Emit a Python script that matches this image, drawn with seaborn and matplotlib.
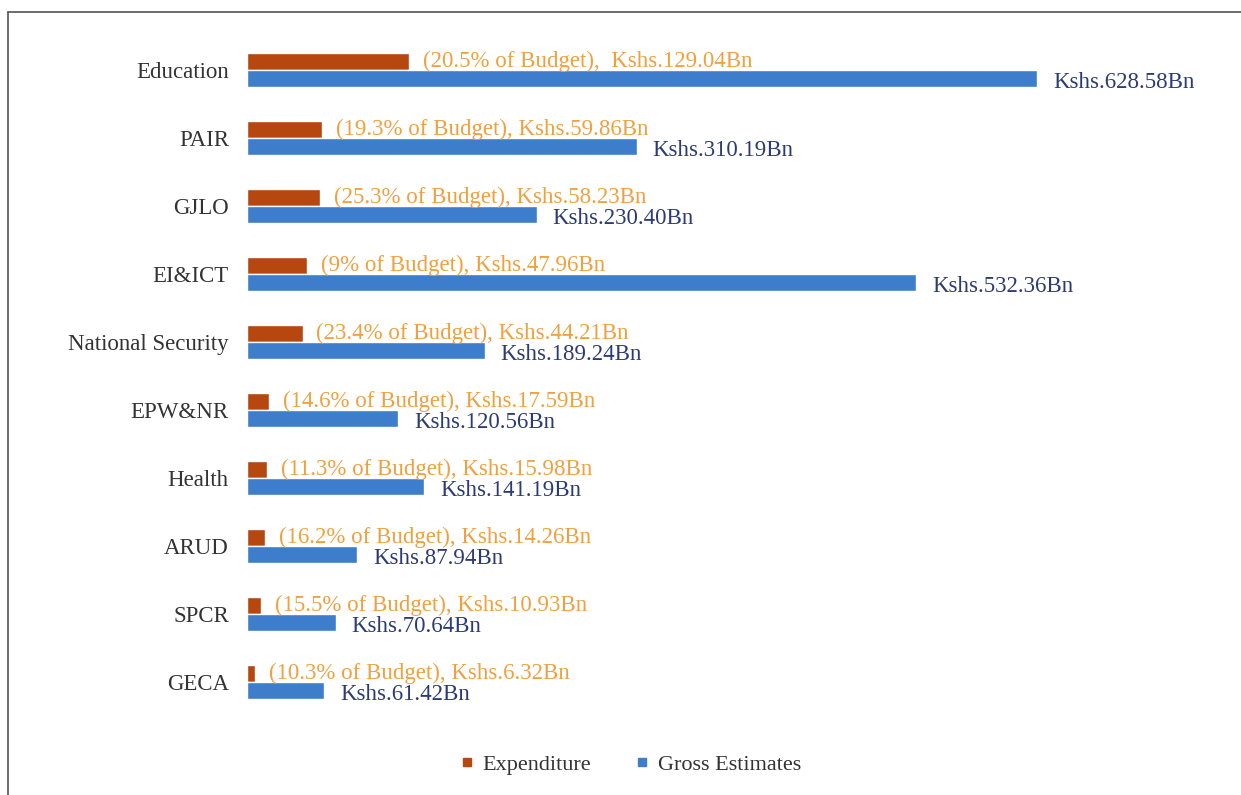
import numpy as np
import pandas as pd
import matplotlib.pyplot as plt
import seaborn as sns
from matplotlib.lines import Line2D

sectors = ['Education', 'PAIR', 'GJLO', 'EI&ICT', 'National Security',
           'EPW&NR', 'Health', 'ARUD', 'SPCR', 'GECA']
expenditure = [129.04, 59.86, 58.23, 47.96, 44.21, 17.59, 15.98, 14.26, 10.93, 6.32]
gross_estimates = [628.58, 310.19, 230.40, 532.36, 189.24, 120.56, 141.19, 87.94, 70.64, 61.42]
pct_of_budget = [20.5, 19.3, 25.3, 9, 23.4, 14.6, 11.3, 16.2, 15.5, 10.3]

exp_color = '#B5470F'
gross_color = '#3E7DCB'
exp_text = '#EFA040'
gross_text = '#2C3B73'

df = pd.DataFrame({
    'Sector': sectors * 2,
    'Value': expenditure + gross_estimates,
    'Series': ['Expenditure'] * len(sectors) + ['Gross Estimates'] * len(sectors),
})

sns.set_style('white')
plt.rcParams['font.family'] = ['Liberation Serif', 'DejaVu Serif']

fig = plt.figure(figsize=(12.41, 7.95), dpi=100)
ax = fig.add_axes([0.199, 0.0994, 0.77, 0.8553])

sns.barplot(data=df, y='Sector', x='Value', hue='Series', orient='h',
            palette=[exp_color, gross_color], width=0.5, saturation=1,
            legend=False, ax=ax)

ax.set_ylim(9.5, -0.5)
ax.set_xlim(0, 0.77 * 1241 / 1.2568)
ax.set_xlabel('')
ax.set_ylabel('')
ax.set_xticks([])
ax.tick_params(axis='y', length=0, pad=13, labelsize=16.5, labelcolor='#333333')
for s in ax.spines.values():
    s.set_visible(False)

exp_labels = []
for i, (p, v) in enumerate(zip(pct_of_budget, expenditure)):
    sep = ',  ' if i == 0 else ', '
    exp_labels.append(f'({p:g}% of Budget){sep}Kshs.{v:.2f}Bn')
gross_labels = [f'Kshs.{v:.2f}Bn' for v in gross_estimates]

ax.bar_label(ax.containers[0], labels=exp_labels, padding=10,
             color=exp_text, fontsize=16.5)
gl = ax.bar_label(ax.containers[1], labels=gross_labels, padding=11.5,
                  color=gross_text, fontsize=16.5)
# gross labels sit a little below their bar centre in the original
for t in gl:
    x0, y0 = t.xyann
    t.xyann = (x0, y0 - 3)

handles = [
    Line2D([], [], marker='s', linestyle='', color=exp_color, markersize=6),
    Line2D([], [], marker='s', linestyle='', color=gross_color, markersize=6),
]
fig.legend(handles, ['Expenditure', 'Gross Estimates'], loc='center',
           bbox_to_anchor=(0.508, 0.038), ncol=2, frameon=False,
           fontsize=16, handlelength=0.6, handletextpad=0.4, columnspacing=2.0,
           labelcolor='#333333')

# frame of the original figure box
fig.add_artist(Line2D([0.0065, 0.0065], [0.0, 0.985], color='#555555', lw=1.2,
                      transform=fig.transFigure))
fig.add_artist(Line2D([0.0065, 1.0], [0.985, 0.985], color='#555555', lw=1.2,
                      transform=fig.transFigure))

fig.savefig('out.png', dpi=100, facecolor='white')
